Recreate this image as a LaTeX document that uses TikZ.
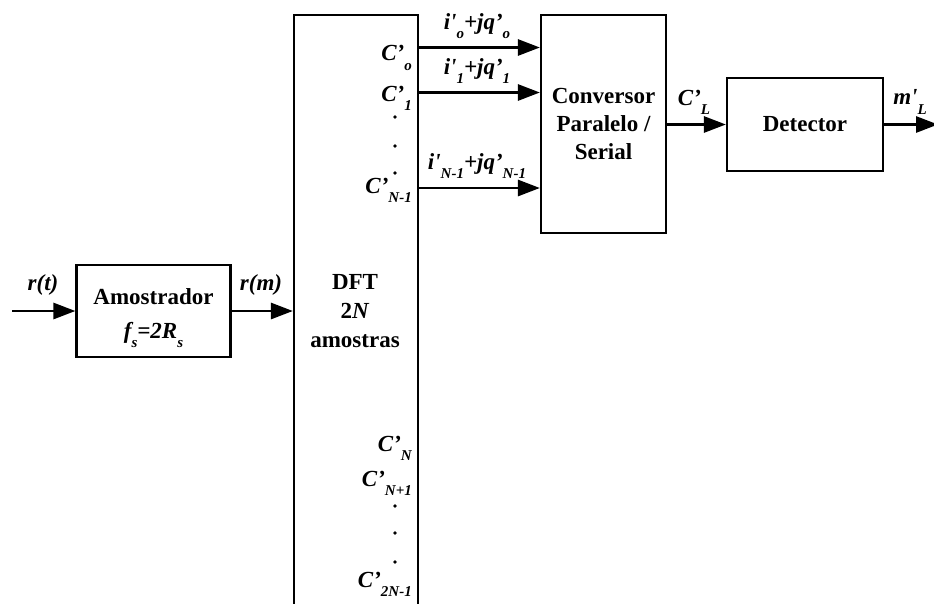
\documentclass[tikz,border=0pt]{standalone}
\usepackage{fontspec}
\setmainfont{Liberation Serif}
\usetikzlibrary{arrows.meta}
\newcommand{\lbsub}[1]{\raisebox{-0.4em}{\fontsize{15}{15}\selectfont #1}}
\newcommand{\pq}{\textquotesingle}
\begin{document}
\begin{tikzpicture}[x=1pt,y=-1pt,
  blk/.style={draw, line width=2.2pt, inner sep=0pt, align=center,
    font=\fontsize{23}{28}\selectfont\bfseries},
  txt/.style={inner sep=0pt, align=center, font=\fontsize{23}{29}\selectfont\bfseries},
  lbl/.style={inner sep=0pt, font=\fontsize{23}{27}\selectfont\bfseries\itshape},
  sig/.style={line width=2.8pt, -{Triangle[length=22pt,width=16pt]}}]
\useasboundingbox (0,0) rectangle (934,603);
\clip (0,0) rectangle (934,603);
% blocks
\node[blk, minimum width=154pt, minimum height=92pt] (amo) at (153.5,311) {};
\node[txt] (amotxt) at (153.5,318) {Amostrador\\[5pt]\itshape f\lbsub{s}=2R\lbsub{s}};
\node[blk, minimum width=124pt, minimum height=640pt] (dft) at (356,335) {};
\node[blk, minimum width=125pt, minimum height=218pt] (conv) at (603.5,124) {Conversor\\Paralelo /\\Serial};
\node[blk, minimum width=156pt, minimum height=93pt] (det) at (805,124.5) {Detector};
% DFT text
\node[txt] (dfttxt) at (355,311) {DFT\\2\textit{N}\\amostras};
% coordinates
\coordinate (in) at (12,311);
\coordinate (out) at (938,124.5);
\coordinate (o0) at (dft.east |- 0,47.5);
\coordinate (o1) at (dft.east |- 0,92.5);
\coordinate (o2) at (dft.east |- 0,188);
% connectors
\draw[sig] (in) -- (amo.west |- in);
\draw[sig] (amo.east) -- (dft.west |- amo.east);
\draw[sig] (o0) -- (conv.west |- o0);
\draw[sig] (o1) -- (conv.west |- o1);
\draw[sig] (o2) -- (conv.west |- o2);
\draw[sig] (conv.east |- det.west) -- (det.west);
\draw[sig] (det.east) -- (out);
% labels
\node[lbl] (lrt) at (43,285) {r(t)};
\node[lbl] (lrm) at (261,285) {r(m)};
\node[lbl] (li0) at (477,26) {i\pq\lbsub{o}+jq’\lbsub{o}};
\node[lbl] (li1) at (477,71) {i\pq\lbsub{1}+jq’\lbsub{1}};
\node[lbl] (li2) at (477,166) {i\pq\lbsub{N-1}+jq’\lbsub{N-1}};
\node[lbl] (lcl) at (694,102) {C’\lbsub{L}};
\node[lbl] (lml) at (910,102) {m\pq\lbsub{L}};
% output labels in DFT
\node[lbl, anchor=east] (c0) at (412,58) {C’\lbsub{o}};
\node[lbl, anchor=east] (c1) at (412,98) {C’\lbsub{1}};
\node[lbl, anchor=east] (c2) at (412,190) {C’\lbsub{N-1}};
\node[lbl, anchor=east] (c3) at (412,448) {C’\lbsub{N}};
\node[lbl, anchor=east] (c4) at (412,483) {C’\lbsub{N+1}};
\node[lbl, anchor=east] (c5) at (412,584) {C’\lbsub{2N-1}};
% dots
\foreach \yy in {117,146,173,506,533,562}
  \fill (395,\yy) circle (1.8pt);
\end{tikzpicture}
\end{document}
